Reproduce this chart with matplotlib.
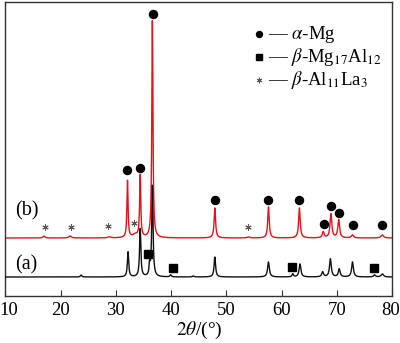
import numpy as np
import matplotlib
matplotlib.use("Agg")
import matplotlib.pyplot as plt
from matplotlib.transforms import ScaledTranslation

plt.rcParams["font.family"] = ["Liberation Serif", "DejaVu Serif"]
plt.rcParams["mathtext.fontset"] = "stix"

# Diffraction peaks: position (2theta, deg), height (a.u.), FWHM (deg)
a_pos = [23.7, 32.2, 34.4, 36.1, 36.6, 39.9, 44.0, 47.9, 57.6, 62.0, 63.3,
         67.4, 68.8, 70.4, 72.8, 76.8, 78.2]
a_hgt = [2, 25, 48, 11, 91, 2, 1, 20, 15, 3, 13, 5, 18, 8, 15, 2, 3]
a_fwhm = [0.3, 0.28, 0.28, 0.22, 0.28, 0.3, 0.3, 0.32, 0.38, 0.3, 0.38,
          0.38, 0.38, 0.38, 0.38, 0.4, 0.5]

b_pos = [17.0, 21.7, 28.8, 33.5, 32.1, 34.4, 36.6, 47.9, 54.0, 57.6, 63.2,
         67.5, 68.9, 70.3, 72.8, 78.2]
b_hgt = [2, 2, 1, 3, 57, 62, 217, 30, 1, 31, 30, 6, 24, 18, 3, 3]
b_fwhm = [0.4, 0.5, 0.6, 1.2, 0.24, 0.24, 0.24, 0.32, 0.5, 0.32, 0.34,
          0.38, 0.38, 0.38, 0.45, 0.55]

a_offset = 19
b_offset = 58

# Phase markers (2theta, height)
mg_x = [32.1, 34.4, 36.8, 47.9, 57.6, 63.2, 67.6, 68.9, 70.4, 72.9, 78.2]
mg_y = [126, 128, 282, 96, 96, 96, 72, 90, 83, 71, 71]
mg17_x = [35.8, 40.3, 61.9, 76.6]
mg17_y = [42, 28, 29, 28]
al11_x = [17.2, 21.9, 28.6, 33.3, 53.9]
al11_y = [69, 69, 70, 73, 69]

xticks = [10, 20, 30, 40, 50, 60, 70, 80]


def profile(x, pos, hgt, fwhm):
    y = np.zeros_like(x)
    for p, h, w in zip(pos, hgt, fwhm):
        y += h / (1.0 + ((x - p) / (w / 2.0)) ** 2)
    return y


theta = np.linspace(10, 80, 7001)
ya = profile(theta, a_pos, a_hgt, a_fwhm) + a_offset
yb = profile(theta, b_pos, b_hgt, b_fwhm) + b_offset

fig = plt.figure(figsize=(4.0, 3.43), dpi=100)
ax = fig.add_axes([5.3 / 400, 47 / 343, 387 / 400, 294.5 / 343])

ax.plot(theta, yb, color="#e8101a", lw=1.0, zorder=2)
ax.plot(theta, ya, color="#111111", lw=1.0, zorder=3)

ax.plot(mg_x, mg_y, "o", color="black", ms=5.8, zorder=4)
ax.plot(mg17_x, mg17_y, "s", color="black", ms=5.2, zorder=4)
ax.plot(al11_x, al11_y, marker=(6, 2, 0), ls="none", color="#555555",
        ms=4.5, mew=0.7, zorder=4)

ax.text(0.055, 0.29, "(b)", transform=ax.transAxes,
        fontsize=14.5, ha="center", va="center")
ax.text(0.055, 0.105, "(a)", transform=ax.transAxes,
        fontsize=14.5, ha="center", va="center")

# Legend
leg_x = 0.656
leg_tx = 0.678
leg_rows = [0.888, 0.810, 0.735]
ax.plot([leg_x], [leg_rows[0]], "o", color="black", ms=4.3,
        transform=ax.transAxes)
ax.plot([leg_x], [leg_rows[1]], "s", color="black", ms=4.0,
        transform=ax.transAxes)
ax.plot([leg_x], [leg_rows[2]], marker=(6, 2, 0), color="#555555", ms=4,
        mew=0.7, transform=ax.transAxes)
labels = ["— $\\alpha$-Mg", "— $\\beta$-Mg$_{17}$Al$_{12}$",
          "— $\\beta$-Al$_{11}$La$_{3}$"]
for yy, lab in zip(leg_rows, labels):
    ax.text(leg_tx, yy, lab, transform=ax.transAxes, fontsize=13.5,
            ha="left", va="center")

ax.set_xlim(10, 80)
ax.set_ylim(0, 294.5)
ax.set_xticks(xticks)
ax.set_xticklabels([str(t) for t in xticks])
ax.set_yticks([])
ax.tick_params(axis="x", direction="in", length=4, width=0.8,
               labelsize=13.5, pad=4, color="#333333")
for s in ax.spines.values():
    s.set_color("#333333")
    s.set_linewidth(1.0)

# keep the end tick labels inside the figure
fig.canvas.draw()
tl = ax.get_xticklabels()
tl[0].set_transform(tl[0].get_transform() + ScaledTranslation(3 / 100, 0, fig.dpi_scale_trans))
tl[-1].set_transform(tl[-1].get_transform() + ScaledTranslation(-2 / 100, 0, fig.dpi_scale_trans))

ax.set_xlabel("$\\mathit{2\\theta}$/(°)", fontsize=14, labelpad=1)

fig.savefig("out.png", dpi=100)
